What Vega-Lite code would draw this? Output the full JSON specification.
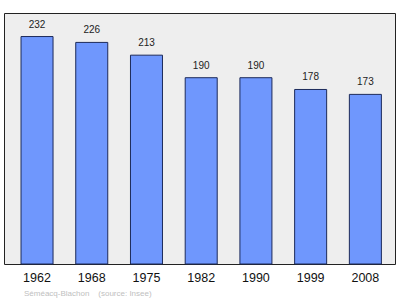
{
  "$schema": "https://vega.github.io/schema/vega-lite/v6.json",
  "width": 391,
  "height": 251,
  "autosize": {"type": "none"},
  "padding": {"left": 4, "top": 13, "right": 5, "bottom": 35},
  "background": "#ffffff",
  "data": {"values": [
    {"year": "1962", "pop": 232},
    {"year": "1968", "pop": 226},
    {"year": "1975", "pop": 213},
    {"year": "1982", "pop": 190},
    {"year": "1990", "pop": 190},
    {"year": "1999", "pop": 178},
    {"year": "2008", "pop": 173}
  ]},
  "title": {
    "text": "Séméacq-Blachon\u00a0\u00a0\u00a0\u00a0(source: Insee)",
    "orient": "bottom",
    "anchor": "start",
    "dx": 20,
    "offset": 6,
    "fontSize": 8,
    "fontWeight": "normal",
    "font": "Liberation Sans",
    "color": "#c0c0c0"
  },
  "encoding": {
    "x": {
      "field": "year",
      "type": "ordinal",
      "scale": {"paddingInner": 0.415, "paddingOuter": 0.28, "range": [1.7, 392.7]},
      "axis": {
        "title": null,
        "labelAngle": 0,
        "ticks": false,
        "domain": false,
        "labelPadding": 7,
        "labelFontSize": 12.5,
        "labelFont": "Liberation Sans",
        "labelColor": "#111111"
      }
    },
    "y": {
      "field": "pop",
      "type": "quantitative",
      "scale": {"domain": [0, 256], "nice": false},
      "axis": null
    }
  },
  "layer": [
    {
      "mark": {"type": "bar", "fill": "#6f97fd", "stroke": "#1c2a5a", "strokeWidth": 1}
    },
    {
      "mark": {"type": "text", "dy": -12, "fontSize": 10, "font": "Liberation Sans", "color": "#222222"},
      "encoding": {"text": {"field": "pop", "type": "quantitative"}}
    }
  ],
  "config": {
    "view": {"fill": "#eeeeee", "stroke": "#222222", "strokeWidth": 1}
  }
}
